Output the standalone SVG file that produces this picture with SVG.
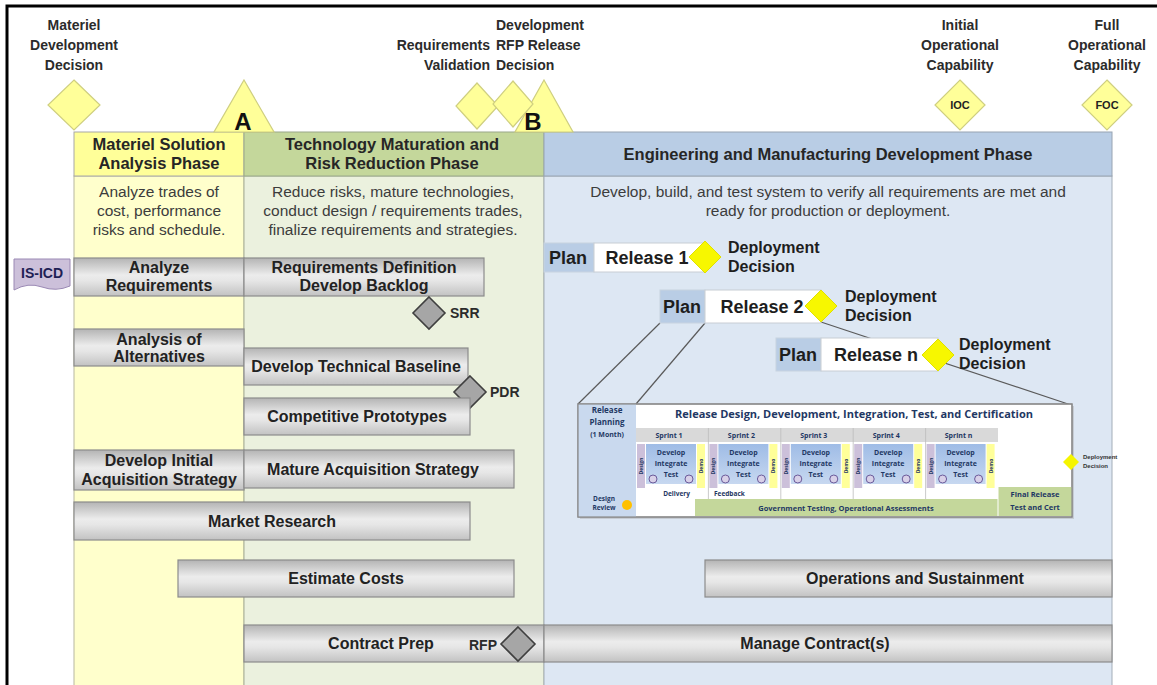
<svg xmlns="http://www.w3.org/2000/svg" width="1157" height="685" viewBox="0 0 1157 685">
  <defs>
    <linearGradient id="barGrad" x1="0" y1="0" x2="0" y2="1">
      <stop offset="0" stop-color="#b4b4b4"/>
      <stop offset="0.45" stop-color="#ececec"/>
      <stop offset="0.6" stop-color="#e6e6e6"/>
      <stop offset="1" stop-color="#c2c2c2"/>
    </linearGradient>
    <linearGradient id="devGrad" x1="0" y1="0" x2="0" y2="1">
      <stop offset="0" stop-color="#9fbce6"/>
      <stop offset="1" stop-color="#c7d8f0"/>
    </linearGradient>
  </defs>
  <style>
    .lbl{font-family:"Liberation Sans",Arial,sans-serif;font-weight:bold;font-size:14px;fill:#2b2b2b}
    .top{font-family:"Liberation Sans",Arial,sans-serif;font-weight:bold;font-size:14px;fill:#2b2b2b;text-anchor:middle}
    .hdr{font-family:"Liberation Sans",Arial,sans-serif;font-weight:bold;font-size:16.5px;fill:#262626;text-anchor:middle}
    .body{font-family:"Liberation Sans",Arial,sans-serif;font-size:15.5px;fill:#3c3c3c;text-anchor:middle}
    .bar{fill:url(#barGrad);stroke:#8c8c8c;stroke-width:1.2}
    .bt{font-family:"Liberation Sans",Arial,sans-serif;font-weight:bold;font-size:16px;fill:#222;text-anchor:middle}
    .ms{fill:#ffff99;stroke:#cfcf80;stroke-width:1.2}
    .gd{fill:#a6a6a6;stroke:#3f3f3f;stroke-width:1.6}
    .yd{fill:#f7f700;stroke:#e0e000;stroke-width:1}
    .plan{fill:#b9cde5;stroke:#c8d3e0;stroke-width:1}
    .rel{fill:#ffffff;stroke:#c8cdd4;stroke-width:1}
    .pt{font-family:"Liberation Sans",Arial,sans-serif;font-weight:bold;font-size:18px;fill:#1e1e1e;text-anchor:middle}
    .dd{font-family:"Liberation Sans",Arial,sans-serif;font-weight:bold;font-size:16px;fill:#1e1e1e}
    .it{font-family:"Open Sans","Liberation Sans",sans-serif;font-weight:bold;fill:#1f3864}
    .conn{stroke:#5a5a5a;stroke-width:1.2;fill:none}
  </style>

  <rect x="0" y="0" width="1157" height="685" fill="#ffffff"/>
  <path d="M7,685 V6 H1157" fill="none" stroke="#000" stroke-width="3"/>

  <!-- phase columns -->
  <g id="phase-msa">
    <rect x="74" y="176" width="170" height="515" fill="#ffffcc" stroke="#b8b8a0" stroke-width="1"/>
    <rect x="74" y="132" width="170" height="44" fill="#ffff99" stroke="#a8a8a8" stroke-width="1"/>
    <text class="hdr" x="159" y="150">Materiel Solution</text>
    <text class="hdr" x="159" y="169">Analysis Phase</text>
    <text class="body" x="159" y="197">Analyze trades of</text>
    <text class="body" x="159" y="216">cost, performance</text>
    <text class="body" x="159" y="235">risks and schedule.</text>
  </g>
  <g id="phase-tmrr">
    <rect x="244" y="176" width="300" height="515" fill="#ebf1de" stroke="#a8b096" stroke-width="1"/>
    <rect x="244" y="132" width="300" height="44" fill="#c4d79b" stroke="#9aa88a" stroke-width="1"/>
    <text class="hdr" x="392" y="150">Technology Maturation and</text>
    <text class="hdr" x="392" y="169">Risk Reduction Phase</text>
    <text class="body" x="393" y="197">Reduce risks, mature technologies,</text>
    <text class="body" x="393" y="216">conduct design / requirements trades,</text>
    <text class="body" x="393" y="235">finalize requirements and strategies.</text>
  </g>
  <g id="phase-emd">
    <rect x="544" y="176" width="568" height="515" fill="#dde7f3" stroke="#a3adb8" stroke-width="1"/>
    <rect x="544" y="132" width="568" height="44" fill="#b9cde5" stroke="#98a4b2" stroke-width="1"/>
    <text class="hdr" x="828" y="160">Engineering and Manufacturing Development Phase</text>
    <text class="body" x="828" y="197">Develop, build,  and test system to verify all requirements are met and</text>
    <text class="body" x="828" y="216">ready for production or deployment.</text>
  </g>

  <!-- milestones along the top -->
  <g id="ms-mdd">
    <text class="top" x="74" y="30">Materiel</text>
    <text class="top" x="74" y="50">Development</text>
    <text class="top" x="74" y="70">Decision</text>
    <polygon class="ms" points="74,80 100,105 74,130 48,105"/>
  </g>
  <g id="ms-a">
    <polygon class="ms" points="244,80 274,132 214,132"/>
    <text x="243" y="130" font-family="Liberation Sans,Arial,sans-serif" font-weight="bold" font-size="24" fill="#111" text-anchor="middle">A</text>
  </g>
  <g id="ms-rv">
    <text class="lbl" x="490" y="50" text-anchor="end">Requirements</text>
    <text class="lbl" x="490" y="70" text-anchor="end">Validation</text>
    <polygon class="ms" points="477,83 498,106 477,129 456,106"/>
  </g>
  <g id="ms-b">
    <polygon class="ms" points="544,80 573,132 515,132"/>
    <text x="533" y="130" font-family="Liberation Sans,Arial,sans-serif" font-weight="bold" font-size="24" fill="#111" text-anchor="middle">B</text>
  </g>
  <g id="ms-rfp">
    <text class="lbl" x="496" y="30">Development</text>
    <text class="lbl" x="496" y="50">RFP Release</text>
    <text class="lbl" x="496" y="70">Decision</text>
    <polygon class="ms" points="513,81 533,104 513,127 493,104"/>
  </g>
  <g id="ms-ioc">
    <text class="top" x="960" y="30">Initial</text>
    <text class="top" x="960" y="50">Operational</text>
    <text class="top" x="960" y="70">Capability</text>
    <polygon class="ms" points="960,80 985,105 960,130 935,105"/>
    <text x="960" y="109" font-family="Liberation Sans,Arial,sans-serif" font-weight="bold" font-size="11" fill="#222" text-anchor="middle">IOC</text>
  </g>
  <g id="ms-foc">
    <text class="top" x="1107" y="30">Full</text>
    <text class="top" x="1107" y="50">Operational</text>
    <text class="top" x="1107" y="70">Capability</text>
    <polygon class="ms" points="1107,80 1132,105 1107,130 1082,105"/>
    <text x="1107" y="109" font-family="Liberation Sans,Arial,sans-serif" font-weight="bold" font-size="11" fill="#222" text-anchor="middle">FOC</text>
  </g>

  <!-- activity bars -->
  <g id="is-icd">
    <path d="M14,259 H70 V286 Q56,292 42,287 T14,290 Z" fill="#ccc0da" stroke="#9a88b4" stroke-width="1"/>
    <text x="42" y="278" font-family="Liberation Sans,Arial,sans-serif" font-weight="bold" font-size="14" fill="#1f1f55" text-anchor="middle">IS-ICD</text>
  </g>
  <g id="analyze-req">
    <rect class="bar" x="74" y="258" width="170" height="38"/>
    <text class="bt" x="159" y="273">Analyze</text>
    <text class="bt" x="159" y="291">Requirements</text>
  </g>
  <g id="req-def">
    <rect class="bar" x="244" y="258" width="240" height="38"/>
    <text class="bt" x="364" y="273">Requirements Definition</text>
    <text class="bt" x="364" y="291">Develop Backlog</text>
  </g>
  <g id="srr">
    <polygon class="gd" points="429,297 445,313 429,329 413,313"/>
    <text class="lbl" x="450" y="318">SRR</text>
  </g>
  <g id="aoa">
    <rect class="bar" x="74" y="329" width="170" height="37"/>
    <text class="bt" x="159" y="345">Analysis of</text>
    <text class="bt" x="159" y="362">Alternatives</text>
  </g>
  <g id="tech-baseline">
    <rect class="bar" x="244" y="348" width="224" height="37"/>
    <text class="bt" x="356" y="372">Develop Technical Baseline</text>
  </g>
  <g id="pdr">
    <polygon class="gd" points="470,376 486,392 470,408 454,392"/>
    <text class="lbl" x="490" y="397">PDR</text>
  </g>
  <g id="prototypes">
    <rect class="bar" x="244" y="398" width="226" height="37"/>
    <text class="bt" x="357" y="422">Competitive Prototypes</text>
  </g>
  <g id="init-acq">
    <rect class="bar" x="74" y="450" width="170" height="40"/>
    <text class="bt" x="159" y="466">Develop Initial</text>
    <text class="bt" x="159" y="485">Acquisition Strategy</text>
  </g>
  <g id="mature-acq">
    <rect class="bar" x="244" y="450" width="270" height="38"/>
    <text class="bt" x="373" y="475">Mature Acquisition Strategy</text>
  </g>
  <g id="market">
    <rect class="bar" x="74" y="502" width="396" height="38"/>
    <text class="bt" x="272" y="527">Market Research</text>
  </g>
  <g id="estimate">
    <rect class="bar" x="178" y="560" width="336" height="37"/>
    <text class="bt" x="346" y="584">Estimate Costs</text>
  </g>
  <g id="ops">
    <rect class="bar" x="705" y="560" width="407" height="37"/>
    <text class="bt" x="915" y="584">Operations and Sustainment</text>
  </g>
  <g id="contract-prep">
    <rect class="bar" x="244" y="625" width="300" height="37"/>
    <text class="bt" x="381" y="649">Contract Prep</text>
    <text class="lbl" x="497" y="650" text-anchor="end">RFP</text>
    <polygon class="gd" points="518,627 535,644 518,661 501,644"/>
  </g>
  <g id="manage">
    <rect class="bar" x="544" y="625" width="568" height="37"/>
    <text class="bt" x="815" y="649">Manage Contract(s)</text>
  </g>

  <!-- connectors: zoom-out lines from release 2 to the sprint detail -->
  <g id="connectors">
    <line class="conn" x1="660" y1="323" x2="578" y2="404"/>
    <line class="conn" x1="705" y1="323" x2="636" y2="404"/>
    <line class="conn" x1="821" y1="322" x2="1071" y2="405"/>
  </g>

  <!-- releases -->
  <g id="release-1">
    <rect class="plan" x="544" y="243" width="50" height="29"/>
    <rect class="rel" x="594" y="243" width="111" height="29"/>
    <text class="pt" x="568" y="264">Plan</text>
    <text class="pt" x="647" y="264">Release 1</text>
    <polygon class="yd" points="705,241 721,257 705,273 689,257"/>
    <text class="dd" x="728" y="253">Deployment</text>
    <text class="dd" x="728" y="272">Decision</text>
  </g>
  <g id="release-2">
    <rect class="plan" x="660" y="290" width="45" height="33"/>
    <rect class="rel" x="705" y="290" width="116" height="33"/>
    <text class="pt" x="682" y="313">Plan</text>
    <text class="pt" x="762" y="313">Release 2</text>
    <polygon class="yd" points="821,290 837,306 821,322 805,306"/>
    <text class="dd" x="845" y="302">Deployment</text>
    <text class="dd" x="845" y="321">Decision</text>
  </g>
  <g id="release-n">
    <rect class="plan" x="776" y="338" width="45" height="33"/>
    <rect class="rel" x="821" y="338" width="117" height="33"/>
    <text class="pt" x="798" y="361">Plan</text>
    <text class="pt" x="876" y="361">Release n</text>
    <polygon class="yd" points="938,339 954,355 938,371 922,355"/>
    <text class="dd" x="959" y="350">Deployment</text>
    <text class="dd" x="959" y="369">Decision</text>
  </g>

  <!-- sprint detail of a release -->
  <g id="release-detail">
    <rect x="580" y="406" width="494" height="113" fill="#9a9a9a" opacity="0.35"/>
    <rect x="578" y="404" width="494" height="113" fill="#ffffff" stroke="#8a8a8a" stroke-width="1.2"/>
    <rect x="578" y="404" width="58" height="113" fill="#c9d9ee"/>
    <text class="it" font-size="8" x="607" y="413" text-anchor="middle">Release</text>
    <text class="it" font-size="8" x="607" y="425" text-anchor="middle">Planning</text>
    <text class="it" font-size="7" x="607" y="437" text-anchor="middle">(1 Month)</text>
    <text class="it" font-size="6.5" x="604" y="501" text-anchor="middle">Design</text>
    <text class="it" font-size="6.5" x="604" y="510" text-anchor="middle">Review</text>
    <circle cx="627" cy="505" r="5" fill="#ffc000"/>
    <text class="it" font-size="10.5" x="675" y="418" textLength="358" lengthAdjust="spacingAndGlyphs" fill="#222">Release Design, Development, Integration, Test, and Certification</text>
    <rect x="636" y="428" width="362" height="14" fill="#d9d9d9"/>
    <g id="sprints">
      <g transform="translate(636,0)">
        <text class="it" font-size="7" x="33" y="438" text-anchor="middle">Sprint 1</text>
        <rect x="1" y="444" width="8" height="44" fill="#ccc0da"/>
        <rect x="10" y="444" width="50" height="40" fill="url(#devGrad)"/>
        <rect x="61" y="444" width="8" height="44" fill="#ffff99"/>
        <text class="it" font-size="7" x="35" y="455" text-anchor="middle">Develop</text>
        <text class="it" font-size="7" x="35" y="466" text-anchor="middle">Integrate</text>
        <text class="it" font-size="7" x="35" y="477" text-anchor="middle">Test</text>
        <circle cx="17" cy="479" r="4" fill="#d8d0e8" stroke="#6a5a9a" stroke-width="1"/>
        <circle cx="53" cy="479" r="4" fill="#d8d0e8" stroke="#6a5a9a" stroke-width="1"/>
        <text class="it" font-size="5" transform="translate(7,466) rotate(-90)" text-anchor="middle" fill="#4a3a6a">Design</text>
        <text class="it" font-size="5" transform="translate(67,466) rotate(-90)" text-anchor="middle" fill="#3a3a2a">Demo</text>
      </g>
      <g transform="translate(708.4,0)">
        <text class="it" font-size="7" x="33" y="438" text-anchor="middle">Sprint 2</text>
        <rect x="1" y="444" width="8" height="44" fill="#ccc0da"/>
        <rect x="10" y="444" width="50" height="40" fill="url(#devGrad)"/>
        <rect x="61" y="444" width="8" height="44" fill="#ffff99"/>
        <text class="it" font-size="7" x="35" y="455" text-anchor="middle">Develop</text>
        <text class="it" font-size="7" x="35" y="466" text-anchor="middle">Integrate</text>
        <text class="it" font-size="7" x="35" y="477" text-anchor="middle">Test</text>
        <circle cx="17" cy="479" r="4" fill="#d8d0e8" stroke="#6a5a9a" stroke-width="1"/>
        <circle cx="53" cy="479" r="4" fill="#d8d0e8" stroke="#6a5a9a" stroke-width="1"/>
        <text class="it" font-size="5" transform="translate(7,466) rotate(-90)" text-anchor="middle" fill="#4a3a6a">Design</text>
        <text class="it" font-size="5" transform="translate(67,466) rotate(-90)" text-anchor="middle" fill="#3a3a2a">Demo</text>
      </g>
      <g transform="translate(780.8,0)">
        <text class="it" font-size="7" x="33" y="438" text-anchor="middle">Sprint 3</text>
        <rect x="1" y="444" width="8" height="44" fill="#ccc0da"/>
        <rect x="10" y="444" width="50" height="40" fill="url(#devGrad)"/>
        <rect x="61" y="444" width="8" height="44" fill="#ffff99"/>
        <text class="it" font-size="7" x="35" y="455" text-anchor="middle">Develop</text>
        <text class="it" font-size="7" x="35" y="466" text-anchor="middle">Integrate</text>
        <text class="it" font-size="7" x="35" y="477" text-anchor="middle">Test</text>
        <circle cx="17" cy="479" r="4" fill="#d8d0e8" stroke="#6a5a9a" stroke-width="1"/>
        <circle cx="53" cy="479" r="4" fill="#d8d0e8" stroke="#6a5a9a" stroke-width="1"/>
        <text class="it" font-size="5" transform="translate(7,466) rotate(-90)" text-anchor="middle" fill="#4a3a6a">Design</text>
        <text class="it" font-size="5" transform="translate(67,466) rotate(-90)" text-anchor="middle" fill="#3a3a2a">Demo</text>
      </g>
      <g transform="translate(853.2,0)">
        <text class="it" font-size="7" x="33" y="438" text-anchor="middle">Sprint 4</text>
        <rect x="1" y="444" width="8" height="44" fill="#ccc0da"/>
        <rect x="10" y="444" width="50" height="40" fill="url(#devGrad)"/>
        <rect x="61" y="444" width="8" height="44" fill="#ffff99"/>
        <text class="it" font-size="7" x="35" y="455" text-anchor="middle">Develop</text>
        <text class="it" font-size="7" x="35" y="466" text-anchor="middle">Integrate</text>
        <text class="it" font-size="7" x="35" y="477" text-anchor="middle">Test</text>
        <circle cx="17" cy="479" r="4" fill="#d8d0e8" stroke="#6a5a9a" stroke-width="1"/>
        <circle cx="53" cy="479" r="4" fill="#d8d0e8" stroke="#6a5a9a" stroke-width="1"/>
        <text class="it" font-size="5" transform="translate(7,466) rotate(-90)" text-anchor="middle" fill="#4a3a6a">Design</text>
        <text class="it" font-size="5" transform="translate(67,466) rotate(-90)" text-anchor="middle" fill="#3a3a2a">Demo</text>
      </g>
      <g transform="translate(925.6,0)">
        <text class="it" font-size="7" x="33" y="438" text-anchor="middle">Sprint n</text>
        <rect x="1" y="444" width="8" height="44" fill="#ccc0da"/>
        <rect x="10" y="444" width="50" height="40" fill="url(#devGrad)"/>
        <rect x="61" y="444" width="8" height="44" fill="#ffff99"/>
        <text class="it" font-size="7" x="35" y="455" text-anchor="middle">Develop</text>
        <text class="it" font-size="7" x="35" y="466" text-anchor="middle">Integrate</text>
        <text class="it" font-size="7" x="35" y="477" text-anchor="middle">Test</text>
        <circle cx="17" cy="479" r="4" fill="#d8d0e8" stroke="#6a5a9a" stroke-width="1"/>
        <circle cx="53" cy="479" r="4" fill="#d8d0e8" stroke="#6a5a9a" stroke-width="1"/>
        <text class="it" font-size="5" transform="translate(7,466) rotate(-90)" text-anchor="middle" fill="#4a3a6a">Design</text>
        <text class="it" font-size="5" transform="translate(67,466) rotate(-90)" text-anchor="middle" fill="#3a3a2a">Demo</text>
      </g>
      <g stroke="#bdbdbd" stroke-width="0.8">
        <line x1="708.4" y1="428" x2="708.4" y2="499"/>
        <line x1="780.8" y1="428" x2="780.8" y2="499"/>
        <line x1="853.2" y1="428" x2="853.2" y2="499"/>
        <line x1="925.6" y1="428" x2="925.6" y2="499"/>
      </g>
    </g>
    <text class="it" font-size="6.5" x="690" y="496" text-anchor="end" fill="#222">Delivery</text>
    <text class="it" font-size="6.5" x="714" y="496" fill="#222">Feedback</text>
    <rect x="695" y="499" width="303" height="17" fill="#c4d79b"/>
    <text class="it" font-size="7.5" x="846" y="511" text-anchor="middle" fill="#1f3a20">Government Testing, Operational Assessments</text>
    <rect x="998" y="487" width="74" height="29" fill="#c4d79b"/>
    <line x1="998" y1="487" x2="998" y2="516" stroke="#ffffff" stroke-width="1"/>
    <text class="it" font-size="7.5" x="1035" y="497" text-anchor="middle" fill="#1f3a20">Final Release</text>
    <text class="it" font-size="7.5" x="1035" y="510" text-anchor="middle" fill="#1f3a20">Test and Cert</text>
    <rect x="578" y="404" width="494" height="113" fill="none" stroke="#8a8a8a" stroke-width="1.2"/>
    <polygon points="1071,454 1079,462 1071,470 1063,462" fill="#f5f500"/>
    <text font-family="Liberation Sans,Arial,sans-serif" font-weight="bold" font-size="6" fill="#333" x="1083" y="459">Deployment</text>
    <text font-family="Liberation Sans,Arial,sans-serif" font-weight="bold" font-size="6" fill="#333" x="1083" y="468">Decision</text>
  </g>
</svg>
